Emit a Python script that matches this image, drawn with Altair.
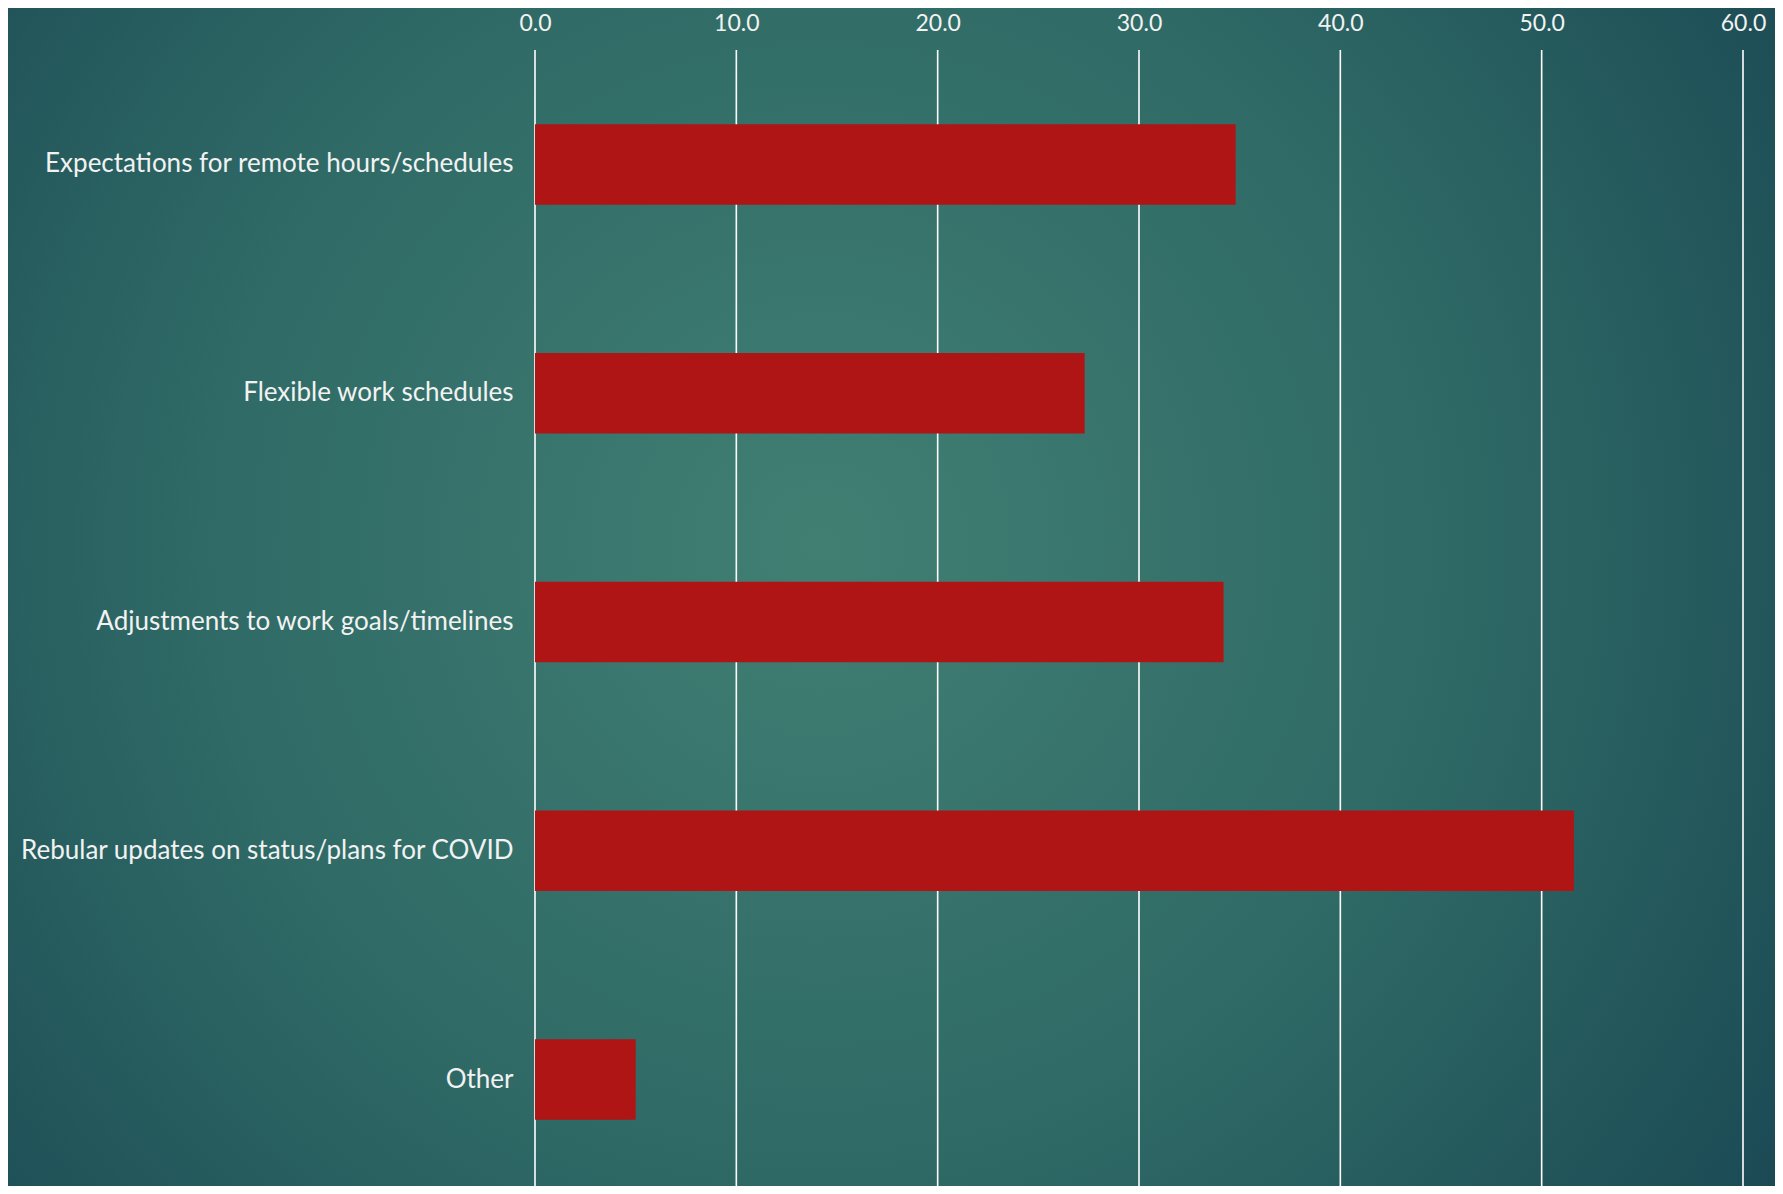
import altair as alt
import pandas as pd

categories = [
    "Expectations for remote hours/schedules",
    "Flexible work schedules",
    "Adjustments to work goals/timelines",
    "Rebular updates on status/plans for COVID",
    "Other",
]
values = [34.8, 27.3, 34.2, 51.6, 5.0]
tick_values = [0, 10, 20, 30, 40, 50, 60]

df = pd.DataFrame({"category": categories, "value": values})
grid_df = pd.DataFrame({"value": tick_values})

FONT = "Lato"
TEXT = "#F2F2F2"

xscale = alt.Scale(domain=[0, 60], nice=False)
xaxis = alt.Axis(
    orient="top", values=tick_values, format=".1f", title=None,
    grid=False, domain=False, ticks=False, labelFont=FONT,
    labelFontSize=23, labelColor=TEXT, labelPadding=15, zindex=2,
    labelFlush=False, labelOverlap=False,
)

bg = alt.Chart(pd.DataFrame({"k": [0]})).mark_rect(
    fill={
        "gradient": "radial",
        "x1": 0.46, "y1": 0.47, "r1": 0.0,
        "x2": 0.46, "y2": 0.47, "r2": 0.78,
        "stops": [
            {"offset": 0.0, "color": "#417f73"},
            {"offset": 0.45, "color": "#2f6a66"},
            {"offset": 0.8, "color": "#1d4d56"},
            {"offset": 1.0, "color": "#133949"},
        ],
    },
    strokeWidth=0,
).encode(
    x=alt.value(-527), x2=alt.value(1240),
    y=alt.value(-42), y2=alt.value(1136),
)

grid = alt.Chart(grid_df).mark_rule(color="#FFFFFF", strokeWidth=1.6).encode(
    x=alt.X("value:Q", scale=xscale, axis=xaxis),
)

bars = alt.Chart(df).mark_bar(color="#B01515").encode(
    x=alt.X("value:Q", scale=xscale, axis=xaxis),
    y=alt.Y(
        "category:N", sort=categories,
        scale=alt.Scale(range=[0, 1144], paddingInner=0.648, paddingOuter=0.324),
        axis=alt.Axis(
            title=None, domain=False, ticks=False, grid=False,
            labelFont=FONT, labelFontSize=26, labelColor=TEXT,
            labelPadding=22, labelLimit=0, zindex=2,
        ),
    ),
)

chart = alt.layer(bg, grid, bars).properties(
    width=1208, height=1136,
    autosize=alt.AutoSizeParams(type="none"),
    padding={"left": 527, "top": 42, "right": 32, "bottom": 0},
    background="#245558",
).configure_view(stroke=None)

chart.save("out.html", embed_options={"renderer": "svg", "actions": False})
